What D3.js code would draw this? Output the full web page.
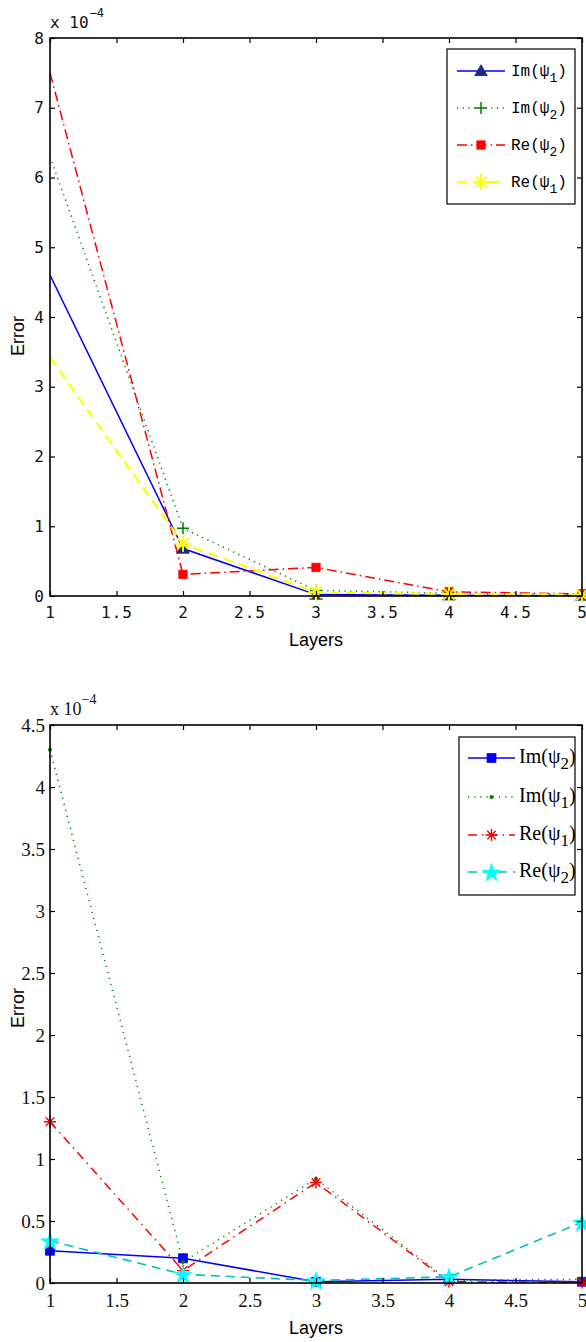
<!DOCTYPE html>
<html><head><meta charset="utf-8">
<script src="https://cdn.jsdelivr.net/npm/d3@7"></script>
<style>html,body{margin:0;padding:0;background:#fff;}svg{display:block;}</style>
</head><body>
<svg id="c" width="586" height="1342"></svg>
<script>
// ---- data ----
const layers = [1, 2, 3, 4, 5];
const xTicks = [1, 1.5, 2, 2.5, 3, 3.5, 4, 4.5, 5];
const topYTicks = [0, 1, 2, 3, 4, 5, 6, 7, 8];
const botYTicks = [0, 0.5, 1, 1.5, 2, 2.5, 3, 3.5, 4, 4.5];

// top chart (x 1e-4)
const topImPsi1 = [4.6, 0.68, 0.02, 0.01, 0.005];
const topImPsi2 = [6.3, 0.97, 0.08, 0.04, 0.02];
const topRePsi2 = [7.5, 0.31, 0.41, 0.06, 0.03];
const topRePsi1 = [3.42, 0.75, 0.05, 0.03, 0.02];

// bottom chart (x 1e-4)
const botImPsi2 = [0.26, 0.20, 0.01, 0.03, 0.01];
const botImPsi1 = [4.3, 0.17, 0.84, 0.02, 0.03];
const botRePsi1 = [1.3, 0.10, 0.81, 0.01, 0.005];
const botRePsi2 = [0.34, 0.07, 0.02, 0.05, 0.49];

const svg = d3.select("#c");

function asteriskPath(r){
  let p="";
  for(let i=0;i<4;i++){const a=i*Math.PI/4;const dx=r*Math.cos(a),dy=r*Math.sin(a);
    p+=`M${-dx},${-dy}L${dx},${dy}`;}
  return p;
}
function plusPath(r){return `M${-r},0L${r},0M0,${-r}L0,${r}`;}

function drawMarker(g, type, x, y, s){
  if(type==="triangle"){
    g.append("path").attr("d", d3.symbol(d3.symbolTriangle, s.size||60)()).attr("transform",`translate(${x},${y+1})`)
     .attr("fill", s.fill).attr("stroke", s.mstroke||s.fill).attr("stroke-width",0.8);
  } else if(type==="square"){
    g.append("path").attr("d", d3.symbol(d3.symbolSquare, s.size||64)()).attr("transform",`translate(${x},${y})`)
     .attr("fill", s.fill).attr("stroke", s.mstroke||s.fill).attr("stroke-width",0.8);
  } else if(type==="plus"){
    g.append("path").attr("d", plusPath(s.r||6)).attr("transform",`translate(${x},${y})`)
     .attr("fill","none").attr("stroke", s.fill).attr("stroke-width",1.5);
  } else if(type==="asterisk"){
    g.append("path").attr("d", asteriskPath(s.r||7)).attr("transform",`translate(${x},${y})`)
     .attr("fill","none").attr("stroke", s.fill).attr("stroke-width",s.msw||2);
  } else if(type==="star"){
    g.append("path").attr("d", d3.symbol(d3.symbolStar, s.size||90)()).attr("transform",`translate(${x},${y+1})`)
     .attr("fill", s.fill).attr("stroke", s.fill).attr("stroke-width",0.5);
  } else if(type==="dot"){
    g.append("circle").attr("cx",x).attr("cy",y).attr("r",s.r||2).attr("fill",s.fill);
  }
}

function drawChart(cfg){
  const x = d3.scaleLinear().domain([1,5]).range([cfg.left, cfg.right]);
  const y = d3.scaleLinear().domain(cfg.yDomain).range([cfg.bottom, cfg.top]);
  const g = svg.append("g");
  const tickFont = cfg.tickFont;

  // series lines
  const line = d3.line().x((d,i)=>x(layers[i])).y(d=>y(d));
  const clipId = "clip"+cfg.id;
  svg.append("clipPath").attr("id",clipId).append("rect")
    .attr("x",cfg.left).attr("y",cfg.top).attr("width",cfg.right-cfg.left).attr("height",cfg.bottom-cfg.top);
  const lg = g.append("g").attr("clip-path",`url(#${clipId})`);
  cfg.series.forEach(s=>{
    lg.append("path").datum(s.values).attr("d",line).attr("fill","none")
      .attr("stroke",s.color).attr("stroke-width",s.width).attr("stroke-dasharray",s.dash||null);
  });
  const mg = g.append("g");
  cfg.series.forEach(s=>{
    s.values.forEach((v,i)=>{ if(i < cfg.markerStart) return; drawMarker(mg, s.marker, x(layers[i]), y(v), s); });
  });

  // axes (box with inward ticks)
  const ax = g.append("g");
  const bottomAxis = d3.axisBottom(x).tickValues(xTicks).tickSize(-5).tickPadding(cfg.xPad).tickFormat(d3.format("~g"));
  const topAxis = d3.axisTop(x).tickValues(xTicks).tickSize(-5).tickFormat("");
  const leftAxis = d3.axisLeft(y).tickValues(cfg.yTicks).tickSize(-5).tickPadding(cfg.yPad).tickFormat(d3.format("~g"));
  const rightAxis = d3.axisRight(y).tickValues(cfg.yTicks).tickSize(-5).tickFormat("");
  const styleAxis = a=>{
    a.select(".domain").remove();
    a.selectAll(".tick line").attr("stroke","#000").attr("stroke-width",1.2);
    a.selectAll(".tick text").attr("fill","#111").style("font-family",tickFont).style("font-size",cfg.tickSize+"px")
      .style("letter-spacing",cfg.tickLS||"0px");
  };
  ax.append("g").attr("transform",`translate(0,${cfg.bottom})`).call(bottomAxis).call(styleAxis);
  ax.append("g").attr("transform",`translate(0,${cfg.top})`).call(topAxis).call(styleAxis);
  ax.append("g").attr("transform",`translate(${cfg.left},0)`).call(leftAxis).call(styleAxis);
  ax.append("g").attr("transform",`translate(${cfg.right},0)`).call(rightAxis).call(styleAxis);
  g.append("rect").attr("x",cfg.left).attr("y",cfg.top).attr("width",cfg.right-cfg.left).attr("height",cfg.bottom-cfg.top)
    .attr("fill","none").attr("stroke","#000").attr("stroke-width",1.6);

  // exponent label
  const ex = g.append("text").attr("x",cfg.left).attr("y",cfg.expY)
    .style("font-family",cfg.tickFont).style("font-size",cfg.expSize+"px").attr("fill","#111");
  ex.append("tspan").text(cfg.expText);
  ex.append("tspan").attr("dy",-cfg.expRise).attr("dx",cfg.expDx).style("font-size",(cfg.expSize-4)+"px").text("\u22124");

  // axis titles
  g.append("text").attr("x",(cfg.left+cfg.right)/2).attr("y",cfg.layersY).attr("text-anchor","middle")
    .style("font-family","'Liberation Sans', Arial, sans-serif").style("font-size","18px").attr("fill","#000").text("Layers");
  g.append("text").attr("transform",`translate(${cfg.errorX},${cfg.errorY}) rotate(-90)`).attr("text-anchor","middle")
    .style("font-family","'Liberation Sans', Arial, sans-serif").style("font-size","18px").attr("fill","#000").text("Error");

  // legend
  const L = cfg.legend;
  g.append("rect").attr("x",L.x).attr("y",L.y).attr("width",L.w).attr("height",L.h)
    .attr("fill","#fff").attr("stroke","#000").attr("stroke-width",1.2);
  cfg.series.forEach((s,i)=>{
    const yy = L.rows[i];
    g.append("line").attr("x1",L.lx1).attr("x2",L.lx2).attr("y1",yy).attr("y2",yy)
      .attr("stroke",s.legColor||s.color).attr("stroke-width",s.width).attr("stroke-dasharray",s.dash||null);
    drawMarker(g, s.marker, (L.lx1+L.lx2)/2, yy, s);
    const t = g.append("text").attr("x",L.tx).attr("y",yy+5)
      .style("font-family",L.font).style("font-size",L.size+"px").attr("fill","#000");
    t.append("tspan").text(s.label[0]+"(\u03C8");
    t.append("tspan").attr("dy",6).style("font-size",(L.size-3)+"px").text(s.label[1]);
    t.append("tspan").attr("dy",-6).text(")");
  });
}

drawChart({
  id:"top", left:50, right:582, top:38, bottom:596, yDomain:[0,8], yTicks:topYTicks, markerStart:1,
  tickFont:"'DejaVu Sans Mono', monospace", tickSize:16, tickLS:"1px", xPad:11, yPad:5,
  expY:28, expSize:16, expRise:11, expText:"x 10", expDx:1,
  layersY:646, errorX:24, errorY:336,
  series:[
    {label:["Im","1"], values:topImPsi1, color:"#0000ff", width:1.5, marker:"triangle", fill:"#1c2a80", size:70},
    {label:["Im","2"], values:topImPsi2, color:"#008000", width:1.5, dash:"1.2,4.5", marker:"plus", fill:"#008000", r:6},
    {label:["Re","2"], values:topRePsi2, color:"#ff0000", width:1.5, dash:"10,4,1.5,4", marker:"square", fill:"#ff0000", size:70},
    {label:["Re","1"], values:topRePsi1, color:"#ffff00", width:2.2, dash:"10,6", marker:"asterisk", fill:"#ffff00", r:8, msw:2}
  ],
  legend:{x:447, y:49, w:128, h:155, rows:[71,108,145,182], lx1:457, lx2:505, tx:511,
          font:"'Liberation Mono', 'Courier New', monospace", size:16}
});

drawChart({
  id:"bot", left:50, right:582, top:725, bottom:1283, yDomain:[0,4.5], yTicks:botYTicks, markerStart:0,
  tickFont:"'Liberation Serif', 'Times New Roman', serif", tickSize:19, xPad:11, yPad:5,
  expY:715, expSize:18, expRise:11, expText:"x 10", expDx:0,
  layersY:1334, errorX:24, errorY:1008,
  series:[
    {label:["Im","2"], values:botImPsi2, color:"#0000ff", width:1.5, marker:"square", fill:"#0000ff", size:80},
    {label:["Im","1"], values:botImPsi1, color:"#008000", width:1.5, dash:"1.2,5", marker:"dot", fill:"#008000", r:2},
    {label:["Re","1"], values:botRePsi1, color:"#ff0000", width:1.5, dash:"9,5,1.5,5", marker:"asterisk", fill:"#ff0000", r:6, msw:1.4},
    {label:["Re","2"], values:botRePsi2, color:"#00bfbf", legColor:"#00bfbf", width:1.6, dash:"9,6", marker:"star", fill:"#00ffff", size:110}
  ],
  legend:{x:459, y:737, w:116, h:158, rows:[758,797,835,872], lx1:468, lx2:515, tx:519,
          font:"'Liberation Serif', 'Times New Roman', serif", size:20}
});
</script>
</body></html>
